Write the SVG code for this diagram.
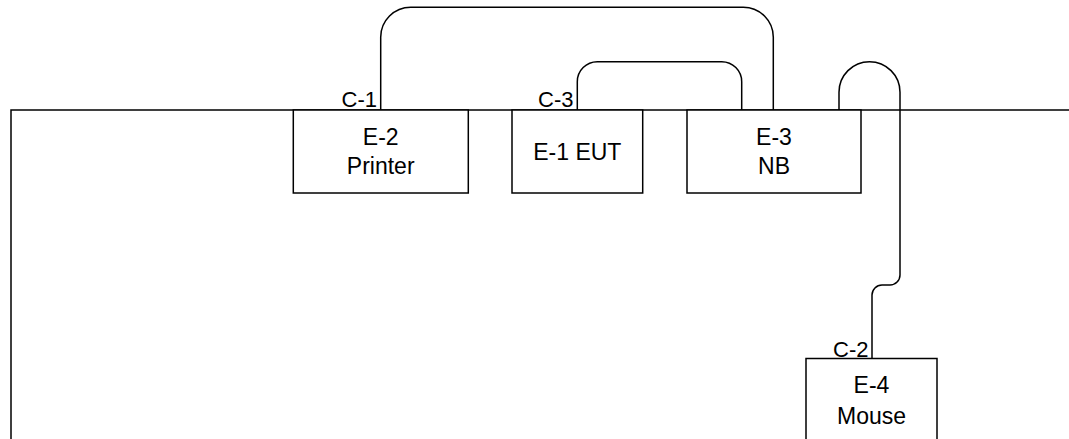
<svg xmlns="http://www.w3.org/2000/svg" width="1069" height="439" viewBox="0 0 1069 439">
<style>
.ln{fill:none;stroke:#000;stroke-width:1.5}
.bx{fill:#fff;stroke:#000;stroke-width:1.5}
.t{font-family:"Liberation Sans",Arial,sans-serif;font-size:23px;fill:#000;text-anchor:middle}
.lb{font-family:"Liberation Sans",Arial,sans-serif;font-size:22px;fill:#000;text-anchor:end}
</style>
<rect width="1069" height="439" fill="#fff"/>
<g id="frame">
<path class="ln" d="M11,440 V110 H1070"/>
</g>
<g id="connectors">
<path id="c1" class="ln" d="M380.7,110 V37.3 A30,30 0 0 1 410.7,7.3 H743.3 A30,30 0 0 1 773.3,37.3 V110"/>
<path id="c3" class="ln" d="M577.3,110 V81.7 A20,20 0 0 1 597.3,61.7 H721.7 A20,20 0 0 1 741.7,81.7 V110"/>
<path id="c2" class="ln" d="M839,110 V92.2 A30.5,30.5 0 0 1 900,92.2 V275 A10,10 0 0 1 890,285 H882 A10,10 0 0 0 872,295 V358.5"/>
<text class="lb" x="377" y="106.7">C-1</text>
<text class="lb" x="573.5" y="106.7">C-3</text>
<text class="lb" x="868.5" y="356.7">C-2</text>
</g>
<g id="E2">
<rect class="bx" x="293.3" y="110" width="175" height="83"/>
<text class="t" x="380.7" y="144.5">E-2</text>
<text class="t" x="380.7" y="174">Printer</text>
</g>
<g id="E1">
<rect class="bx" x="512" y="110" width="130.7" height="83"/>
<text class="t" x="577.3" y="160">E-1 EUT</text>
</g>
<g id="E3">
<rect class="bx" x="687" y="110" width="174" height="83"/>
<text class="t" x="774" y="144.5">E-3</text>
<text class="t" x="774" y="174">NB</text>
</g>
<g id="E4">
<rect class="bx" x="806" y="358.5" width="131" height="83"/>
<text class="t" x="871.5" y="393">E-4</text>
<text class="t" x="871.5" y="424">Mouse</text>
</g>
</svg>
